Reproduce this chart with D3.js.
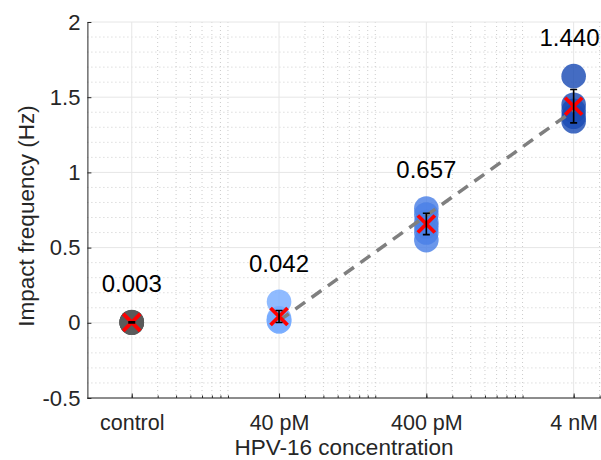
<!DOCTYPE html>
<html><head><meta charset="utf-8">
<script src="https://cdn.jsdelivr.net/npm/d3@7"></script>
<style>
html,body{margin:0;padding:0;background:#fff;}
svg{display:block;font-family:"Liberation Sans",Arial,Helvetica,sans-serif;}
</style></head>
<body>
<svg id="chart" width="601" height="460"></svg>
<script>
// ---- data ----
const categories = ["control", "40 pM", "400 pM", "4 nM"];
const xPositions = [2, 20, 200, 2000];            // position on the log axis
const valuesControl = [0.000, 0.005, 0.002, 0.004, 0.004];
const values40pM   = [0.14, 0.03, 0.02, 0.01, 0.01];
const values400pM  = [0.76, 0.72, 0.67, 0.64, 0.60, 0.55];
const values4nM    = [1.64, 1.45, 1.41, 1.37, 1.34];
const means  = [0.003, 0.042, 0.657, 1.440];
const errors = [0.004, 0.040, 0.071, 0.111];
const meanLabels = ["0.003", "0.042", "0.657", "1.440"];
const fitX = [20, 2000];
const fitY = [0.014, 1.412];
const yTicks = [-0.5, 0, 0.5, 1, 1.5, 2];
const yTickLabels = ["-0.5", "0", "0.5", "1", "1.5", "2"];
const groupColors = ["#5a5a5a", "#78acff", "#4a80e6", "#1b4cb4"];

const allValues = [valuesControl, values40pM, values400pM, values4nM];

(function () {
// ---- layout ----
const svg = d3.select("#chart");
const x = d3.scaleLog().domain([1, 10000]).range([87.4, 676.6]);
const y = d3.scaleLinear().domain([-0.5, 2]).range([398, 22]);
const pL = 87.4, pR = 601, pT = 22, pB = 398;

// grid: minor
const minorX = [];
for (let e = 0; e < 4; e++) for (let m = 2; m <= 9; m++) minorX.push(m * Math.pow(10, e));
const minorY = d3.range(-0.5, 2.0001, 0.1).map(v => +v.toFixed(2)).filter(v => !yTicks.includes(v));

const grid = svg.append("g");
grid.selectAll("line.mx").data(minorX.filter(v => !xPositions.includes(v))).join("line")
  .attr("x1", d => x(d)).attr("x2", d => x(d)).attr("y1", pT).attr("y2", pB)
  .attr("stroke", "#cccccc").attr("stroke-width", 1).attr("stroke-dasharray", "1,3");
grid.selectAll("line.my").data(minorY).join("line")
  .attr("x1", pL).attr("x2", pR).attr("y1", d => y(d)).attr("y2", d => y(d))
  .attr("stroke", "#cccccc").attr("stroke-width", 1).attr("stroke-dasharray", "1,3");
// grid: major
grid.selectAll("line.MX").data(xPositions).join("line")
  .attr("x1", d => x(d)).attr("x2", d => x(d)).attr("y1", pT).attr("y2", pB)
  .attr("stroke", "#e6e6e6").attr("stroke-width", 1);
grid.selectAll("line.MY").data(yTicks).join("line")
  .attr("x1", pL).attr("x2", pR).attr("y1", d => y(d)).attr("y2", d => y(d))
  .attr("stroke", "#e6e6e6").attr("stroke-width", 1);

// axes
const axisColor = "#262626";
const yAxis = svg.append("g").attr("transform", `translate(${pL},0)`)
  .call(d3.axisLeft(y).tickValues(yTicks).tickFormat((d, i) => yTickLabels[i]).tickSizeInner(-4).tickSizeOuter(0).tickPadding(7));
yAxis.select(".domain").attr("stroke", axisColor);
yAxis.selectAll(".tick line").attr("stroke", axisColor);
yAxis.selectAll("text").attr("fill", axisColor).attr("font-size", 22)
  .attr("font-family", "Liberation Sans, Arial, sans-serif");

const xAxisMinor = svg.append("g").attr("transform", `translate(0,${pB})`)
  .call(d3.axisBottom(x).tickValues(minorX).tickFormat("").tickSizeInner(-2.5).tickSizeOuter(0));
xAxisMinor.select(".domain").remove();
xAxisMinor.selectAll(".tick line").attr("stroke", axisColor);

const xAxis = svg.append("g").attr("transform", `translate(0,${pB})`)
  .call(d3.axisBottom(x).tickValues(xPositions).tickFormat((d, i) => categories[i]).tickSizeInner(-4.5).tickSizeOuter(0).tickPadding(17));
xAxis.select(".domain").attr("stroke", axisColor).attr("d", `M${pL},0H${pR + 80}`);
xAxis.selectAll(".tick line").attr("stroke", axisColor);
xAxis.selectAll("text").attr("fill", axisColor).attr("font-size", 21.5)
  .attr("font-family", "Liberation Sans, Arial, sans-serif");

// axis titles
svg.append("text").attr("x", 344).attr("y", 455).attr("text-anchor", "middle")
  .attr("font-size", 22.5).attr("fill", axisColor).text("HPV-16 concentration");
svg.append("text").attr("transform", "translate(34,216) rotate(-90)").attr("text-anchor", "middle")
  .attr("font-size", 22.5).attr("fill", axisColor).text("Impact frequency (Hz)");

// points
const R = 12.3;
allValues.forEach((vals, gi) => {
  svg.append("g").selectAll("circle").data(vals).join("circle")
    .attr("cx", x(xPositions[gi])).attr("cy", d => y(d)).attr("r", R)
    .attr("fill", groupColors[gi]).attr("fill-opacity", 0.82);
});

// dashed fit line
svg.append("path")
  .datum(fitX.map((d, i) => [d, fitY[i]]))
  .attr("d", d3.line().x(d => x(d[0])).y(d => y(d[1])))
  .attr("fill", "none").attr("stroke", "#7f7f7f").attr("stroke-width", 3.5)
  .attr("stroke-dasharray", "12,8");

// mean markers (red X)
const X = 8.5;
const mk = svg.append("g");
means.forEach((m, i) => {
  const cx = x(xPositions[i]), cy = y(m);
  mk.append("path")
    .attr("d", `M${cx - X},${cy - X}L${cx + X},${cy + X}M${cx - X},${cy + X}L${cx + X},${cy - X}`)
    .attr("stroke", "#ff0000").attr("stroke-width", 3.8).attr("fill", "none");
});

// error bars
const eb = svg.append("g").attr("stroke", "#000").attr("stroke-width", 1.6).attr("fill", "none");
means.forEach((m, i) => {
  const cx = x(xPositions[i]);
  const y0 = y(m - errors[i]), y1 = y(m + errors[i]);
  const c = 3.5;
  eb.append("path").attr("d", `M${cx},${y0}V${y1}M${cx - c},${y0}H${cx + c}M${cx - c},${y1}H${cx + c}`);
});

// value labels
meanLabels.forEach((t, i) => {
  const txt = svg.append("text").attr("x", x(xPositions[i])).attr("y", y(d3.max(allValues[i]) + 0.2))
    .attr("text-anchor", "middle").attr("font-size", 24).attr("fill", "#000").text(t);
  const w = txt.node().getComputedTextLength();
  const cx = Math.min(x(xPositions[i]), 599.5 - w / 2);
  txt.attr("x", cx);
});
})();
</script>
</body></html>
